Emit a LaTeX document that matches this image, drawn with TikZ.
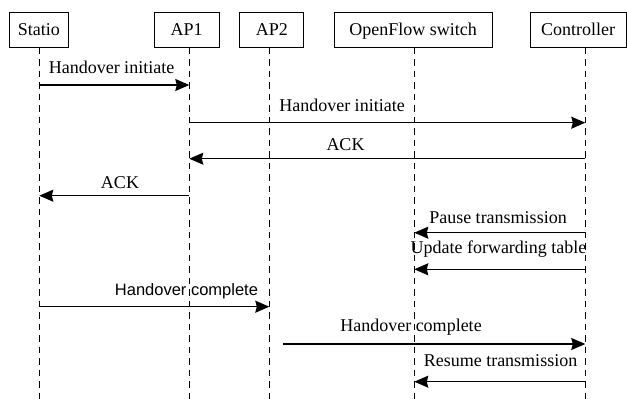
\documentclass[tikz,border=0pt]{standalone}
\usepackage{fontspec}
\setmainfont{Liberation Serif}
\newfontfamily\helv{Liberation Sans}
\usetikzlibrary{arrows.meta}

\tikzset{
  actor/.style={draw, line width=1pt, inner sep=0pt, minimum height=35.4pt,
                text height=12.5pt, text depth=1.5pt, font=\fontsize{18}{20}\selectfont},
  lifeline/.style={line width=1.6pt, dash pattern=on 6.5pt off 5pt},
  msg/.style={line width=1.3pt, -{Stealth[length=14pt, width=12pt, inset=1.5pt]}},
  lbl/.style={anchor=base, inner sep=0pt, font=\fontsize{18}{20}\selectfont},
  lblsans/.style={anchor=base, inner sep=0pt, font=\helv\fontsize{16.5}{18}\selectfont},
}

\begin{document}
\begin{tikzpicture}[x=1pt, y=-1pt]
\useasboundingbox (0,0) rectangle (627,399);

% participants
\node[actor, minimum width=59pt]    (sta)  at (38.8,30)  {Statio};
\node[actor, minimum width=64.7pt]  (ap1)  at (186.7,30) {AP1};
\node[actor, minimum width=63.7pt]  (ap2)  at (271.8,30) {AP2};
\node[actor, minimum width=157.7pt] (ofs)  at (413.2,30) {OpenFlow switch};
\node[actor, minimum width=95.7pt]  (ctl)  at (578.2,30) {Controller};

% lifeline end points
\coordinate (Lsta) at (39.3,47.7);  \coordinate (Bsta) at (39.3,399);
\coordinate (Lap1) at (189.3,47.7); \coordinate (Bap1) at (189.3,399);
\coordinate (Lap2) at (269.3,47.7); \coordinate (Bap2) at (269.3,399);
\coordinate (Lofs) at (414.3,47.7); \coordinate (Bofs) at (414.3,399);
\coordinate (Lctl) at (585.3,47.7); \coordinate (Bctl) at (585.3,399);

\foreach \p in {sta,ap1,ap2,ofs,ctl}
  \draw[lifeline] (L\p) -- (B\p);

% messages
\draw[msg] (Lsta |- 0,85)    -- (Lap1 |- 0,85);
\node[lbl] (t1) at (111.5,73) {Handover initiate};

\draw[msg] (Lap1 |- 0,122.7) -- (Lctl |- 0,122.7);
\node[lbl] (t2) at (342,111) {Handover initiate};

\draw[msg] (Lctl |- 0,158.7) -- (Lap1 |- 0,158.7);
\node[lbl] (t3) at (345.5,150.7) {ACK};

\draw[msg] (Lap1 |- 0,195.7) -- (Lsta |- 0,195.7);
\node[lbl] (t4) at (120,188) {ACK};

\draw[msg] (Lctl |- 0,232.7) -- (Lofs |- 0,232.7);
\node[lbl] (t5) at (498,223) {Pause transmission};

\draw[msg] (Lctl |- 0,269.3) -- (Lofs |- 0,269.3);
\node[lbl] (t6) at (498.5,253.5) {Update forwarding table};

\draw[msg] (Lsta |- 0,306.7) -- (Lap2 |- 0,306.7);
\node[lblsans] (t7) at (186.5,295) {Handover complete};

\coordinate (hc) at (283,344);
\draw[msg] (hc) -- (Lctl |- hc);
\node[lbl] (t8) at (411,331.7) {Handover complete};

\draw[msg] (Lctl |- 0,381.7) -- (Lofs |- 0,381.7);
\node[lbl] (t9) at (500.5,366) {Resume transmission};
\end{tikzpicture}
\end{document}
